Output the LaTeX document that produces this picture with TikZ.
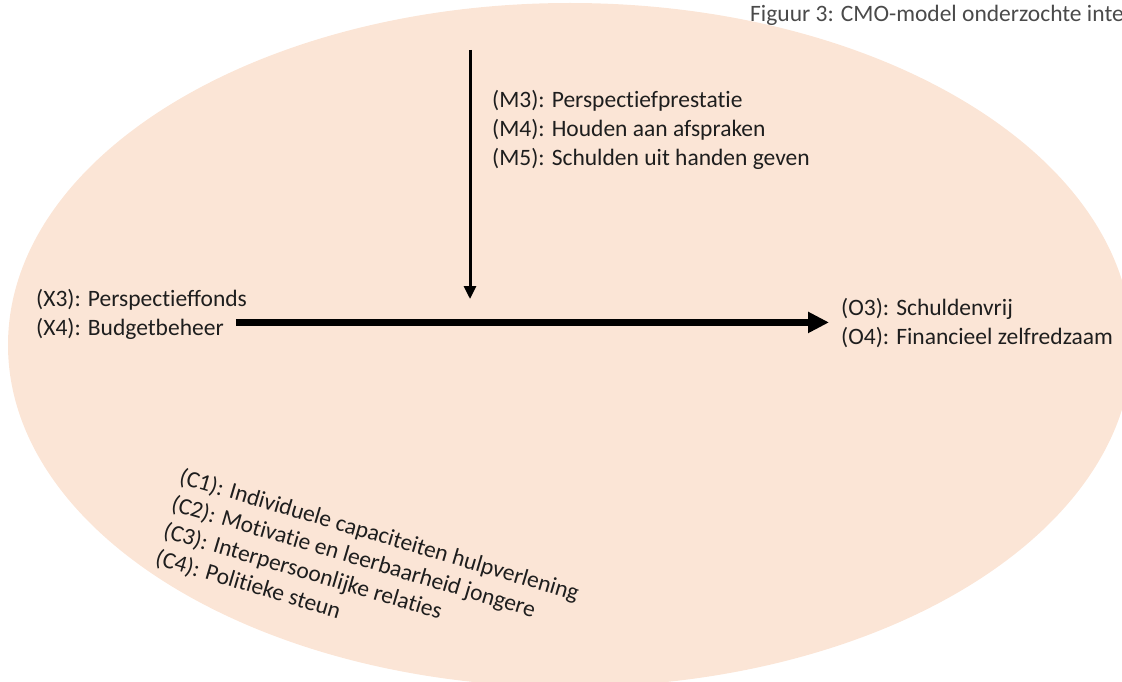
\documentclass[tikz,border=0pt]{standalone}
\usepackage{fontspec}
\setmainfont{Carlito}[Ligatures=NoCommon]
\usetikzlibrary{arrows.meta}
\definecolor{peach}{HTML}{FBE5D6}
\definecolor{ink}{HTML}{1E1E1E}
\definecolor{capgray}{HTML}{4A4A4A}
\tikzset{
  lbl/.style={inner sep=0pt, anchor=base west, text=ink, font=\fontsize{23.5pt}{29pt}\selectfont},
  ctx/.style={lbl, rotate=-16.5},
  caption/.style={inner sep=0pt, anchor=base west, text=capgray, font=\fontsize{23.5pt}{28pt}\selectfont},
  thinarrow/.style={draw=black, line width=3pt, -{Triangle[length=13pt,width=12pt]}},
  thickarrow/.style={draw=black, line width=6.5pt, -{Triangle[length=21pt,width=20pt]}}
}
\begin{document}
\begin{tikzpicture}[x=1pt,y=-1pt]
\useasboundingbox (0,0) rectangle (1122,682);
\fill[peach] (570,345) ellipse [x radius=562, y radius=342];

\node[caption] (cap) at (750,22) {Figuur 3: CMO-model onderzochte inte};

\node[lbl] (m3) at (492,108) {(M3): Perspectiefprestatie};
\node[lbl] (m4) at (492,137) {(M4): Houden aan afspraken};
\node[lbl] (m5) at (492,166) {(M5): Schulden uit handen geven};

\node[lbl] (x3) at (36,306) {(X3): Perspectieffonds};
\node[lbl] (x4) at (36,335) {(X4): Budgetbeheer};

\node[lbl] (o3) at (841,315) {(O3): Schuldenvrij};
\node[lbl] (o4) at (841,344) {(O4): Financieel zelfredzaam};

\node[ctx] (c1) at (178,483) {(C1): Individuele capaciteiten hulpverlening};
\node[ctx] (c2) at (170,510) {(C2): Motivatie en leerbaarheid jongere};
\node[ctx] (c3) at (162,537) {(C3): Interpersoonlijke relaties};
\node[ctx] (c4) at (154,564) {(C4): Politieke steun};

\coordinate (mtop) at (470,50);
\coordinate (mtip) at (470,299);
\draw[thinarrow] (mtop) -- (mtip);
\draw[thickarrow] ([xshift=12pt,yshift=6pt]x4.east) -- ([xshift=-12pt,yshift=6pt]x4.east -| o3.west);
\end{tikzpicture}
\end{document}
